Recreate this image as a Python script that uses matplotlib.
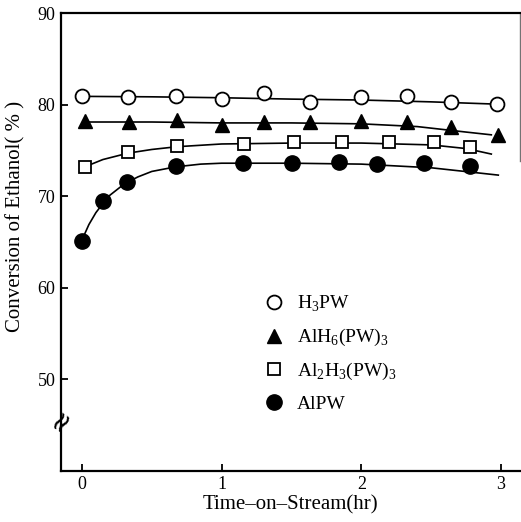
import matplotlib
matplotlib.use("Agg")
import matplotlib.pyplot as plt
from matplotlib.lines import Line2D

plt.rcParams['font.family'] = ['Liberation Serif', 'DejaVu Serif']
plt.rcParams['mathtext.fontset'] = 'custom'
plt.rcParams['mathtext.rm'] = 'Liberation Serif'

#### measured points (time in hr, conversion in %)
t_h3pw = [0, 0.33, 0.67, 1.0, 1.3, 1.63, 2.0, 2.33, 2.64, 2.97]
c_h3pw = [80.9, 80.8, 80.9, 80.6, 81.3, 80.3, 80.8, 80.9, 80.3, 80.1]

t_alh6 = [0.02, 0.34, 0.68, 1.0, 1.3, 1.63, 2.0, 2.33, 2.64, 2.98]
c_alh6 = [78.2, 78.1, 78.3, 77.8, 78.1, 78.1, 78.2, 78.1, 77.5, 76.7]

t_al2h3 = [0.02, 0.33, 0.68, 1.16, 1.52, 1.86, 2.2, 2.52, 2.78]
c_al2h3 = [73.2, 74.8, 75.5, 75.7, 75.9, 75.9, 75.9, 75.9, 75.4]

t_alpw = [0, 0.15, 0.32, 0.67, 1.15, 1.5, 1.84, 2.11, 2.45, 2.78]
c_alpw = [65.1, 69.5, 71.6, 73.3, 73.6, 73.6, 73.7, 73.5, 73.6, 73.3]

#### hand drawn trend curves
ct_h3pw = [0, 0.5, 1.0, 1.5, 2.0, 2.5, 2.97]
cv_h3pw = [80.9, 80.85, 80.75, 80.6, 80.5, 80.3, 80.05]

ct_alh6 = [0.02, 0.5, 1.0, 1.5, 2.0, 2.4, 2.75, 2.93]
cv_alh6 = [78.1, 78.1, 78.0, 78.0, 77.9, 77.6, 77.0, 76.7]

ct_al2h3 = [0.02, 0.15, 0.33, 0.5, 0.68, 1.0, 1.5, 2.0, 2.5, 2.75, 2.93]
cv_al2h3 = [73.2, 74.0, 74.7, 75.1, 75.4, 75.7, 75.8, 75.8, 75.6, 75.2, 74.6]

ct_alpw = [0, 0.05, 0.1, 0.15, 0.2, 0.3, 0.4, 0.5, 0.67, 0.85, 1.0, 1.5, 2.0, 2.5, 2.98]
cv_alpw = [65.2, 66.9, 68.2, 69.2, 70.1, 71.3, 72.1, 72.7, 73.2, 73.5, 73.6, 73.6, 73.5, 73.1, 72.3]

labels = [r'H$_{\rm 3}$PW', r'AlH$_{\rm 6}$(PW)$_{\rm 3}$',
          r'Al$_{\rm 2}$H$_{\rm 3}$(PW)$_{\rm 3}$', 'AlPW']

fig = plt.figure(figsize=(5.21, 5.22), dpi=100)
ax = fig.add_axes([0.117, 0.098, 0.881, 0.877])

lw = 1.2
ax.plot(ct_h3pw, cv_h3pw, color='black', lw=lw, zorder=2)
ax.plot(ct_alh6, cv_alh6, color='black', lw=lw, zorder=2)
ax.plot(ct_al2h3, cv_al2h3, color='black', lw=lw, zorder=2)
ax.plot(ct_alpw, cv_alpw, color='black', lw=lw, zorder=2)

ax.plot(t_h3pw, c_h3pw, 'o', ms=10, mfc='white', mec='black', mew=1.3, zorder=3)
ax.plot(t_alh6, c_alh6, '^', ms=10, mfc='black', mec='black', zorder=3)
ax.plot(t_al2h3, c_al2h3, 's', ms=8.5, mfc='white', mec='black', mew=1.3, zorder=3)
ax.plot(t_alpw, c_alpw, 'o', ms=11, mfc='black', mec='black', zorder=3)

ax.set_xlim(-0.15, 3.135)
ax.set_ylim(40, 90)
ax.set_xticks([0, 1, 2, 3])
ax.set_yticks([50, 60, 70, 80, 90])
ax.tick_params(direction='in', length=5, width=1.3, labelsize=13, pad=4)
ax.set_xlabel('Time\u2013on\u2013Stream(hr)', fontsize=15, labelpad=1)
ax.set_ylabel('Conversion of Ethanol( % )', fontsize=15)
ax.yaxis.set_label_coords(-0.077, 0.555)

for s in ['left', 'bottom', 'top']:
    ax.spines[s].set_linewidth(1.6)
ax.spines['right'].set_linewidth(1.0)
ax.spines['right'].set_color('0.45')
ax.spines['right'].set_bounds(73.8, 90)

# axis break mark on the y axis
ax.text(0, 0.11, '\u2248', transform=ax.transAxes, rotation=55, fontsize=20,
        family='DejaVu Sans', ha='center', va='center', clip_on=False, zorder=4)

handles = [
    Line2D([], [], ls='none', marker='o', ms=10, mfc='white', mec='black', mew=1.3),
    Line2D([], [], ls='none', marker='^', ms=10, mfc='black', mec='black'),
    Line2D([], [], ls='none', marker='s', ms=8.5, mfc='white', mec='black', mew=1.3),
    Line2D([], [], ls='none', marker='o', ms=11, mfc='black', mec='black'),
]
ax.legend(handles, labels, loc='upper left', bbox_to_anchor=(0.444, 0.386),
          frameon=False, fontsize=14, handlelength=0.9, handletextpad=0.75,
          labelspacing=0.66, borderpad=0, borderaxespad=0)

fig.savefig('out.png', dpi=100)
